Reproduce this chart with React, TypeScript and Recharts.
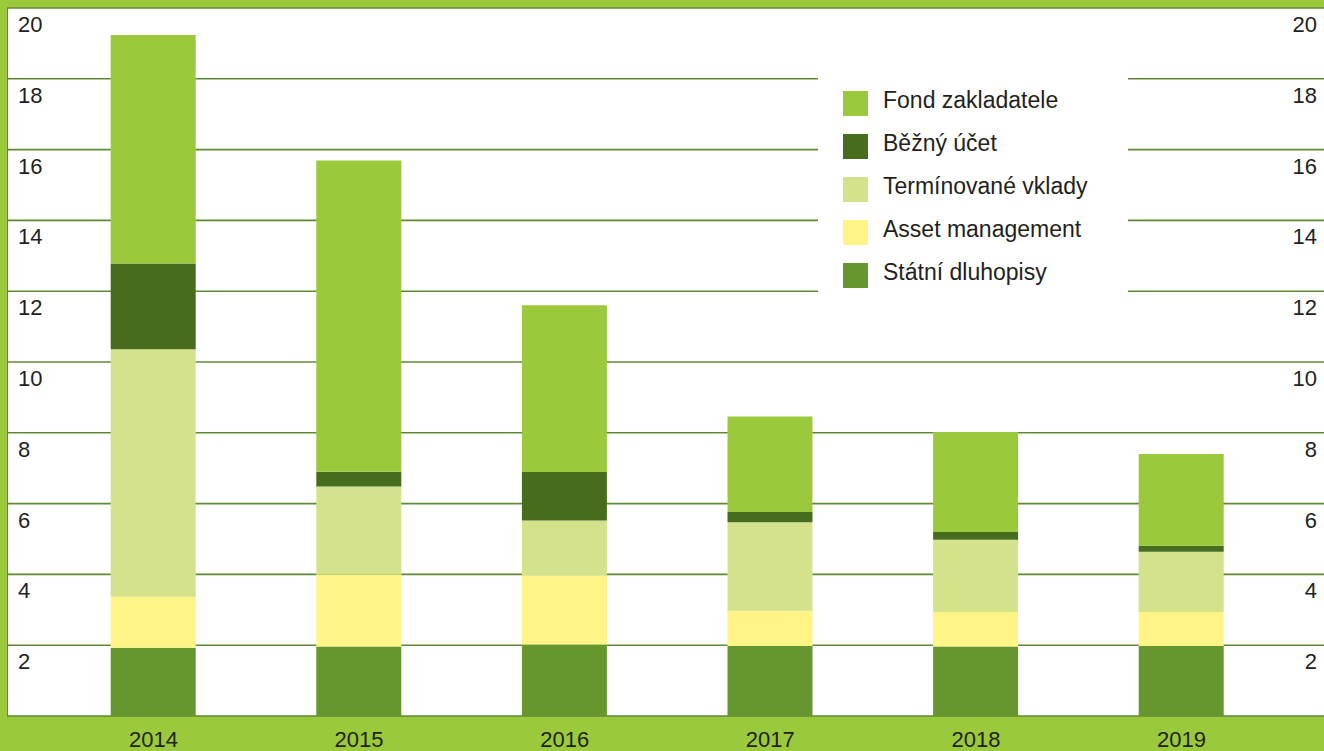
import React from "react";
import { BarChart, Bar, XAxis, YAxis, CartesianGrid, Legend } from "recharts";

const years = ["2014", "2015", "2016", "2017", "2018", "2019"];
const statniDluhopisy = [1.93, 1.96, 2.02, 1.98, 1.96, 1.98];
const assetManagement = [1.44, 2.04, 1.95, 0.99, 0.98, 0.96];
const terminovaneVklady = [6.99, 2.48, 1.55, 2.5, 2.04, 1.7];
const beznyUcet = [2.42, 0.42, 1.37, 0.29, 0.22, 0.17];
const fondZakladatele = [6.46, 8.79, 4.71, 2.7, 2.82, 2.59];
const yTicks = [0, 2, 4, 6, 8, 10, 12, 14, 16, 18, 20];

const seriesNames = {
  statni: "Státní dluhopisy",
  asset: "Asset management",
  termin: "Termínované vklady",
  bezny: "Běžný účet",
  fond: "Fond zakladatele",
};

const COLORS = {
  fond: "#9aca3c",
  bezny: "#466c1d",
  termin: "#d4e28b",
  asset: "#fff485",
  statni: "#66972f",
};

const BG = "#9aca3c";
const GRID = "#5e8a35";
const TEXT = "#231f20";
const FONT = "'Liberation Sans', Arial, sans-serif";

const data = years.map((y, i) => ({
  year: y,
  statni: statniDluhopisy[i],
  asset: assetManagement[i],
  termin: terminovaneVklady[i],
  bezny: beznyUcet[i],
  fond: fondZakladatele[i],
}));

const legendOrder: (keyof typeof seriesNames)[] = ["fond", "bezny", "termin", "asset", "statni"];

const YTick = (props: any) => {
  const { y, payload } = props;
  if (payload.value === 0) return null;
  return (
    <g>
      <text x={18} y={y + 24} fill={TEXT} fontSize={22} fontFamily={FONT} textAnchor="start">
        {payload.value}
      </text>
      <text x={1317} y={y + 24} fill={TEXT} fontSize={22} fontFamily={FONT} textAnchor="end">
        {payload.value}
      </text>
    </g>
  );
};

const XTick = (props: any) => {
  const { x, payload } = props;
  return (
    <text x={x} y={747} fill={TEXT} fontSize={22} fontFamily={FONT} textAnchor="middle">
      {payload.value}
    </text>
  );
};

const LegendContent = () => (
  <svg width={310} height={260} style={{ display: "block" }}>
    <rect x={0} y={0} width={310} height={260} fill="#ffffff" />
    {legendOrder.map((k, i) => (
      <g key={k}>
        <rect x={25} y={36 + 43 * i} width={25} height={25} fill={COLORS[k]} />
        <text x={65} y={53 + 43 * i} fill={TEXT} fontSize={23} fontFamily={FONT}>
          {seriesNames[k]}
        </text>
      </g>
    ))}
  </svg>
);

export default function App() {
  return (
    <div
      style={{
        position: "absolute",
        left: 0,
        top: 0,
        width: 1324,
        height: 751,
        background: BG,
        overflow: "hidden",
      }}
    >
      <div
        style={{
          position: "absolute",
          left: 6.5,
          top: 8,
          width: 1318,
          height: 708,
          background: "#ffffff",
          borderLeft: `1.5px solid ${GRID}`,
          boxSizing: "border-box",
        }}
      />
      <div style={{ position: "absolute", left: 0, top: 0 }}>
        <BarChart
          width={1324}
          height={751}
          data={data}
          margin={{ top: 8, right: 0, bottom: 0, left: 6 }}
          barSize={85}
        >
          <CartesianGrid vertical={false} stroke={GRID} strokeWidth={1.6} />
          <XAxis
            dataKey="year"
            height={35}
            axisLine={false}
            tickLine={false}
            tick={<XTick />}
            padding={{ left: 43.7, right: 39.7 }}
            interval={0}
          />
          <YAxis
            width={1}
            domain={[0, 20]}
            ticks={yTicks}
            axisLine={false}
            tickLine={false}
            tick={<YTick />}
            interval={0}
          />
          <Legend
            layout="vertical"
            align="center"
            verticalAlign="middle"
            content={<LegendContent />}
            wrapperStyle={{ position: "absolute", left: 818, top: 55, width: 310, height: 260 }}
          />
          <Bar dataKey="statni" name={seriesNames.statni} stackId="a" fill={COLORS.statni} isAnimationActive={false} />
          <Bar dataKey="asset" name={seriesNames.asset} stackId="a" fill={COLORS.asset} isAnimationActive={false} />
          <Bar dataKey="termin" name={seriesNames.termin} stackId="a" fill={COLORS.termin} isAnimationActive={false} />
          <Bar dataKey="bezny" name={seriesNames.bezny} stackId="a" fill={COLORS.bezny} isAnimationActive={false} />
          <Bar dataKey="fond" name={seriesNames.fond} stackId="a" fill={COLORS.fond} isAnimationActive={false} />
        </BarChart>
      </div>
    </div>
  );
}
